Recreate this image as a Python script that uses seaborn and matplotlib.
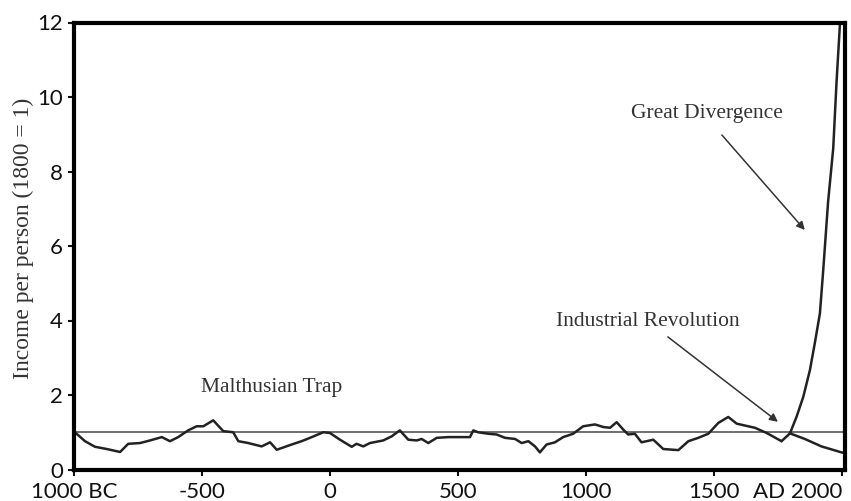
import matplotlib
matplotlib.use("Agg")
import matplotlib.pyplot as plt
import seaborn as sns
import pandas as pd

# ---- data ----
years_main = [-1000, -990, -957, -918, -872, -820, -788, -742, -703, -657, -625, -593,
              -554, -521, -495, -456, -417, -378, -358, -319, -267, -234, -208, -150,
              -111, -78, -26, 0, 39, 85, 104, 130, 156, 208, 241, 273, 306, 339, 358,
              384, 417, 462, 547, 560, 579, 618, 651, 684, 723, 749, 775, 801, 820,
              846, 879, 911, 950, 989, 1035, 1068, 1094, 1120, 1146, 1165, 1191, 1217,
              1263, 1302, 1361, 1400, 1439, 1478, 1517, 1556, 1589, 1660, 1706, 1764]
income_main = [1.00, 0.96, 0.76, 0.61, 0.55, 0.47, 0.69, 0.71, 0.78, 0.87, 0.76, 0.87,
               1.05, 1.16, 1.16, 1.32, 1.03, 1.00, 0.76, 0.71, 0.62, 0.73, 0.53, 0.67,
               0.76, 0.85, 1.00, 0.98, 0.80, 0.61, 0.69, 0.62, 0.71, 0.78, 0.89, 1.05,
               0.80, 0.78, 0.82, 0.71, 0.85, 0.87, 0.87, 1.05, 1.00, 0.96, 0.94, 0.85,
               0.82, 0.71, 0.76, 0.62, 0.46, 0.67, 0.73, 0.87, 0.96, 1.16, 1.21, 1.14,
               1.12, 1.27, 1.07, 0.94, 0.96, 0.73, 0.80, 0.55, 0.52, 0.76, 0.85, 0.96,
               1.25, 1.41, 1.23, 1.12, 0.98, 0.76]

years_rich = [1764, 1797, 1823, 1849, 1875, 1894, 1914, 1927, 1946, 1966, 1979, 1992, 1996]
income_rich = [0.76, 0.97, 1.42, 1.95, 2.67, 3.39, 4.19, 5.36, 7.19, 8.62, 10.41, 11.93, 12.5]

years_poor = [1797, 1855, 1920, 1998, 2012]
income_poor = [0.97, 0.82, 0.62, 0.46, 0.44]

x_ticks = [-1000, -500, 0, 500, 1000, 1500, 2000]
x_tick_labels = ["1000 BC", "-500", "0", "500", "1000", "1500", "AD 2000"]
y_ticks = [0, 2, 4, 6, 8, 10, 12]

subsistence_level = 1

df_main = pd.DataFrame({"year": years_main, "income": income_main})
df_rich = pd.DataFrame({"year": years_rich, "income": income_rich})
df_poor = pd.DataFrame({"year": years_poor, "income": income_poor})

# ---- plot ----
sns.set_style("white")
plt.rcParams["font.family"] = ["Lato", "DejaVu Sans"]

fig = plt.figure(figsize=(8.51, 5.01), dpi=100)
ax = fig.add_axes([74 / 851, 1 - 469.5 / 501, (845 - 74) / 851, (469.5 - 22.5) / 501])

ax.axhline(subsistence_level, color="#555555", lw=1.2, zorder=1)

line_kw = dict(color="#222222", linewidth=1.8, sort=False, estimator=None, ax=ax)
sns.lineplot(data=df_main, x="year", y="income", **line_kw)
sns.lineplot(data=df_rich, x="year", y="income", **line_kw)
sns.lineplot(data=df_poor, x="year", y="income", **line_kw)

ax.set_xlim(-1000, 2012)
ax.set_ylim(0, 12)
ax.set_xticks(x_ticks)
ax.set_xticklabels(x_tick_labels)
ax.set_yticks(y_ticks)
for lab in ax.get_xticklabels():
    if lab.get_text() == "AD 2000":
        lab.set_horizontalalignment("right")
ax.tick_params(axis="both", which="both", direction="out", length=4, width=1.5,
               color="#111111", labelsize=16, labelcolor="#111111")
ax.tick_params(axis="x", pad=5)
ax.tick_params(axis="y", pad=4)
ax.tick_params(bottom=True, left=True)

for s in ax.spines.values():
    s.set_visible(True)
    s.set_linewidth(3)
    s.set_color("#000000")

serif = ["Liberation Serif", "DejaVu Serif"]
ax.set_xlabel("")
ax.set_ylabel("Income per person (1800 = 1)", family=serif, fontsize=17,
              color="#333333", va="center")
ax.yaxis.set_label_coords(-0.066, 0.518)

txt_kw = dict(family=serif, fontsize=15.5, color="#333333", ha="center", va="center")
ax.text(-227, 2.21, "Malthusian Trap", **txt_kw)

arrow_kw = dict(arrowstyle="-|>", color="#333333", lw=1.1, mutation_scale=12,
                shrinkA=0, shrinkB=0)
ax.annotate("Great Divergence", xy=(1855, 6.43), xytext=(1473, 9.57), **txt_kw)
ax.annotate("", xy=(1855, 6.43), xytext=(1531, 8.98), arrowprops=arrow_kw)
ax.annotate("Industrial Revolution", xy=(1750, 1.28), xytext=(1242, 3.96), **txt_kw)
ax.annotate("", xy=(1750, 1.28), xytext=(1320, 3.56), arrowprops=arrow_kw)

fig.savefig("out.png", dpi=100)
